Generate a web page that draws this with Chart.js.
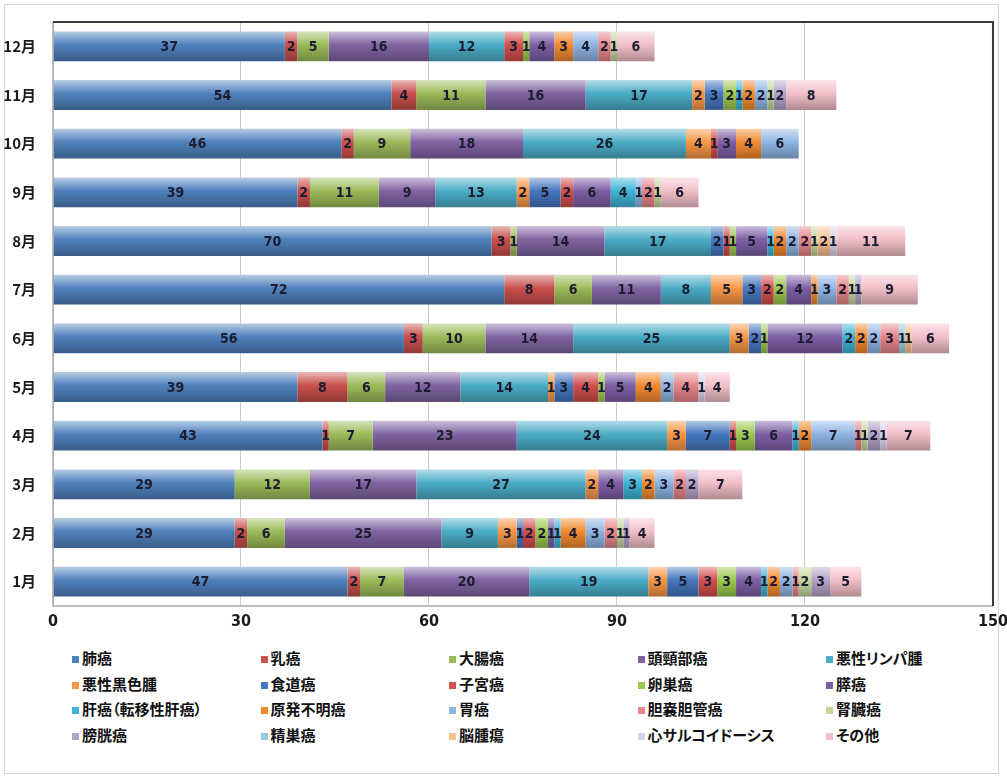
<!DOCTYPE html>
<html>
<head>
<meta charset="utf-8">
<script src="https://cdn.jsdelivr.net/npm/chart.js@4.4.1/dist/chart.umd.min.js"></script>
<style>
  html, body { margin: 0; padding: 0; background: #fff; }
  #page { position: relative; width: 1007px; height: 778px; overflow: hidden; }
  #frame { position: absolute; left: 4px; top: 4px; width: 993px; height: 768px; border: 1px solid #d4d4d4; }
  #chartBox { position: absolute; left: 0; top: 0; width: 1014px; height: 640px; }
  #legend { position: absolute; left: 0; top: 648px; width: 1007px; }
  .item { position: absolute; font-family: "Noto Sans CJK JP", sans-serif; font-weight: 700; font-size: 15px;
          color: #111; white-space: nowrap; line-height: 20px; font-feature-settings: "palt"; }
  .item i { display: inline-block; width: 7px; height: 7px; margin-right: 3px; vertical-align: 1px; }
</style>
</head>
<body>
<div id="page">
  <div id="frame"></div>
  <div id="chartBox"><canvas id="chart"></canvas></div>
  <div id="legend"></div>
</div>
<script>
// months, top row first
const months = ['12月', '11月', '10月', '9月', '8月', '7月', '6月', '5月', '4月', '3月', '2月', '1月'];
const xTicks = [0, 30, 60, 90, 120, 150];

// values per month (same order as months)
const lung        = [37, 54, 46, 39, 70, 72, 56, 39, 43, 29, 29, 47];
const breast      = [2, 4, 2, 2, 3, 8, 3, 8, 1, 0, 2, 2];
const colorectal  = [5, 11, 9, 11, 1, 6, 10, 6, 7, 12, 6, 7];
const headNeck    = [16, 16, 18, 9, 14, 11, 14, 12, 23, 17, 25, 20];
const lymphoma    = [12, 17, 26, 13, 17, 8, 25, 14, 24, 27, 9, 19];
const melanoma    = [0, 2, 4, 2, 0, 5, 3, 1, 3, 2, 3, 3];
const esophagus   = [0, 3, 0, 5, 2, 3, 2, 3, 7, 0, 1, 5];
const uterus      = [3, 0, 1, 2, 1, 2, 0, 4, 1, 0, 2, 3];
const ovary       = [1, 2, 0, 0, 1, 2, 1, 1, 3, 0, 2, 3];
const pancreas    = [4, 0, 3, 6, 5, 4, 12, 5, 6, 4, 1, 4];
const liver       = [0, 1, 0, 4, 1, 0, 2, 0, 1, 3, 1, 1];
const unknownPrim = [3, 2, 4, 0, 2, 1, 2, 4, 2, 2, 4, 2];
const stomach     = [4, 2, 6, 1, 2, 3, 2, 2, 7, 3, 3, 2];
const biliary     = [2, 0, 0, 2, 2, 2, 3, 4, 1, 2, 2, 1];
const kidney      = [1, 1, 0, 1, 1, 1, 0, 0, 1, 0, 1, 2];
const bladder     = [0, 2, 0, 0, 0, 1, 0, 0, 2, 2, 1, 3];
const testis      = [0, 0, 0, 0, 0, 0, 1, 0, 0, 0, 0, 0];
const brain       = [0, 0, 0, 0, 2, 0, 1, 0, 0, 0, 0, 0];
const sarcoid     = [0, 0, 0, 0, 1, 0, 0, 1, 1, 0, 0, 0];
const others      = [6, 8, 0, 6, 11, 9, 6, 4, 7, 7, 4, 5];

const seriesNames = ['肺癌', '乳癌', '大腸癌', '頭頸部癌', '悪性リンパ腫',
  '悪性黒色腫', '食道癌', '子宮癌', '卵巣癌', '膵癌',
  '肝癌（転移性肝癌）', '原発不明癌', '胃癌', '胆嚢胆管癌', '腎臓癌',
  '膀胱癌', '精巣癌', '脳腫瘍', '心サルコイドーシス', 'その他'];
const seriesData = [lung, breast, colorectal, headNeck, lymphoma,
  melanoma, esophagus, uterus, ovary, pancreas,
  liver, unknownPrim, stomach, biliary, kidney,
  bladder, testis, brain, sarcoid, others];
const seriesColors = ['#4F81BD', '#C8504D', '#9BBB59', '#8064A2', '#4BACC6',
  '#F79646', '#4677BE', '#D24F4D', '#9BC94E', '#7D5FA5',
  '#3FB4D6', '#F28A30', '#8EB4E3', '#E6858A', '#C3D69B',
  '#B3A2C7', '#93CDDD', '#FAC090', '#D9D3E8', '#F2BFC8'];

function mix(hex, other, t) {
  const a = parseInt(hex.slice(1), 16), b = parseInt(other.slice(1), 16);
  const r = Math.round(((a >> 16) & 255) * (1 - t) + ((b >> 16) & 255) * t);
  const g = Math.round(((a >> 8) & 255) * (1 - t) + ((b >> 8) & 255) * t);
  const bl = Math.round((a & 255) * (1 - t) + (b & 255) * t);
  return 'rgb(' + r + ',' + g + ',' + bl + ')';
}

// Excel-like vertical gradient on each bar
function barFill(color) {
  return function (context) {
    const chart = context.chart;
    const yScale = chart.scales.y;
    if (!chart.chartArea || !yScale) return color;
    const c = yScale.getPixelForValue(context.dataIndex);
    const h = 15;
    const g = chart.ctx.createLinearGradient(0, c - h, 0, c + h);
    g.addColorStop(0, mix(color, '#ffffff', 0.6));
    g.addColorStop(0.45, color);
    g.addColorStop(1, mix(color, '#000000', 0.28));
    return g;
  };
}

const numFont = "'Liberation Sans Narrow', 'DejaVu Sans Condensed', sans-serif";

// numbers inside each segment
const segmentLabels = {
  id: 'segmentLabels',
  afterDatasetsDraw(chart) {
    const ctx = chart.ctx;
    ctx.save();
    ctx.font = 'bold 14px ' + numFont;
    ctx.fillStyle = '#1c1c30';
    ctx.textAlign = 'center';
    ctx.textBaseline = 'middle';
    chart.data.datasets.forEach((ds, i) => {
      const meta = chart.getDatasetMeta(i);
      meta.data.forEach((bar, j) => {
        const v = ds.data[j];
        if (!v) return;
        ctx.fillText(String(v), (bar.x + bar.base) / 2, bar.y + 1);
      });
    });
    ctx.restore();
  }
};

// plot frame: dark top/right, grey left/bottom
const plotFrame = {
  id: 'plotFrame',
  afterDraw(chart) {
    const a = chart.chartArea, ctx = chart.ctx;
    ctx.save();
    ctx.strokeStyle = '#a8a8a8';
    ctx.lineWidth = 1.5;
    ctx.beginPath();
    ctx.moveTo(a.left, a.top);
    ctx.lineTo(a.left, a.bottom);
    ctx.lineTo(a.right, a.bottom);
    ctx.stroke();
    ctx.strokeStyle = '#3a3a3a';
    ctx.lineWidth = 2;
    ctx.beginPath();
    ctx.moveTo(a.left, a.top);
    ctx.lineTo(a.right, a.top);
    ctx.lineTo(a.right, a.bottom);
    ctx.stroke();
    ctx.restore();
  }
};

const datasets = seriesNames.map((name, i) => ({
  label: name,
  data: seriesData[i],
  backgroundColor: barFill(seriesColors[i]),
  borderWidth: 0,
  barPercentage: 0.68,
  categoryPercentage: 0.9
}));

new Chart(document.getElementById('chart'), {
  type: 'bar',
  data: { labels: months, datasets: datasets },
  options: {
    indexAxis: 'y',
    responsive: true,
    maintainAspectRatio: false,
    animation: false,
    layout: { padding: { top: 22, right: 0, bottom: 4, left: 0 } },
    plugins: {
      legend: { display: false },
      tooltip: { enabled: false }
    },
    scales: {
      x: {
        stacked: true,
        min: 0,
        max: 150,
        afterBuildTicks(scale) { scale.ticks = xTicks.map(v => ({ value: v })); },
        afterFit(scale) { scale.height = 30; },
        grid: { color: '#cccccc', lineWidth: 1, drawTicks: false },
        border: { display: false },
        ticks: {
          padding: 6,
          color: '#1a1a1a',
          font: { family: numFont, size: 16, weight: 'bold' }
        }
      },
      y: {
        stacked: true,
        afterFit(scale) { scale.width = 53; },
        grid: { display: false },
        border: { display: false },
        ticks: {
          padding: 9,
          color: '#1a1a1a',
          font: { family: "'Noto Sans CJK JP', sans-serif", size: 15, weight: 'bold' }
        }
      }
    }
  },
  plugins: [segmentLabels, plotFrame]
});

// legend: 5 columns x 4 rows
const legend = document.getElementById('legend');
seriesNames.forEach((name, i) => {
  const el = document.createElement('div');
  el.className = 'item';
  el.style.left = (72 + (i % 5) * 188.5) + 'px';
  el.style.top = (Math.floor(i / 5) * 25.7) + 'px';
  el.innerHTML = '<i style="background:' + seriesColors[i] + '"></i>' + name;
  legend.appendChild(el);
});
</script>
</body>
</html>
